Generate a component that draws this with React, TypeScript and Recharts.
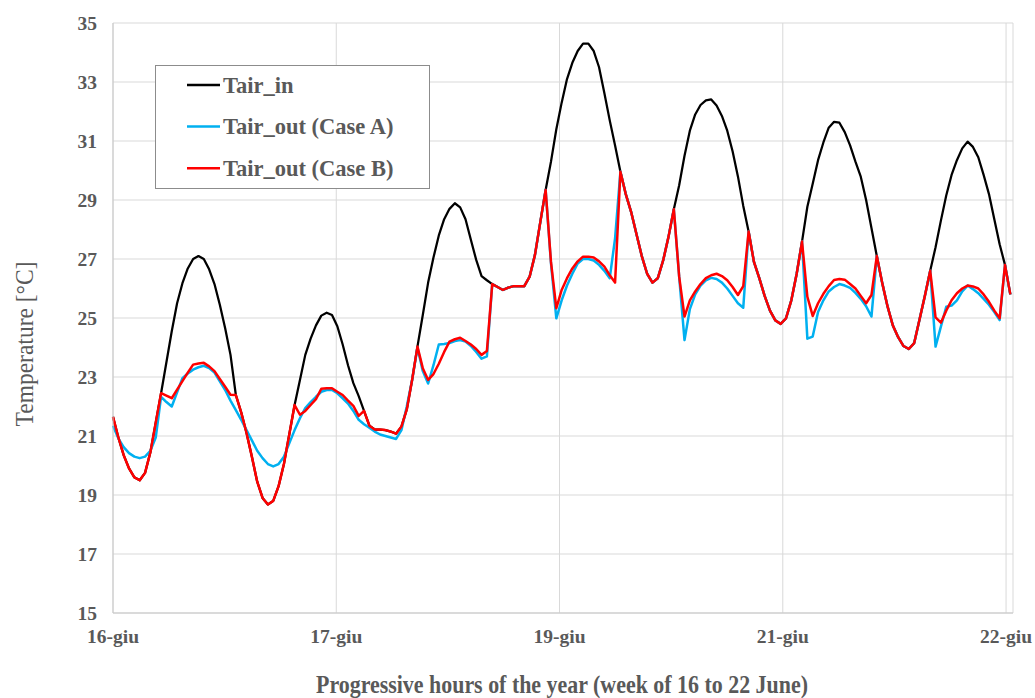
import React from 'react';
import { LineChart, Line, XAxis, YAxis, CartesianGrid, Legend } from 'recharts';

// hourly samples, week of 16-22 June (index = progressive hour of the week)
const tairIn = [
  21.65, 20.95, 20.35, 19.9, 19.6, 19.5, 19.75, 20.45, 21.45, 22.45,
  23.5, 24.55, 25.5, 26.18, 26.68, 27.0, 27.1, 27.0, 26.65, 26.15,
  25.45, 24.65, 23.75, 22.39, 21.8, 21.1, 20.3, 19.45, 18.9, 18.68,
  18.8, 19.3, 20.05, 21.05, 22.05, 22.9, 23.75, 24.3, 24.75, 25.08,
  25.18, 25.1, 24.72, 24.1, 23.4, 22.79, 22.35, 21.85, 21.35, 21.22,
  21.22, 21.2, 21.15, 21.08, 21.32, 21.9, 22.9, 24.03, 25.1, 26.2,
  27.05, 27.8, 28.35, 28.7, 28.89, 28.75, 28.35, 27.65, 26.97, 26.42,
  26.28, 26.15, 26.05, 25.95, 26.03, 26.08, 26.08, 26.08, 26.4, 27.14,
  28.25, 29.34, 30.3, 31.4, 32.3, 33.1, 33.65, 34.05, 34.3, 34.3,
  34.05, 33.5, 32.62, 31.7, 30.85, 29.96, 29.2, 28.6, 27.85, 27.1,
  26.5, 26.2, 26.35, 26.95, 27.75, 28.69, 29.5, 30.5, 31.35, 31.9,
  32.22, 32.38, 32.41, 32.2, 31.85, 31.35, 30.65, 29.8, 28.8, 27.93,
  26.9, 26.35, 25.75, 25.25, 24.92, 24.8, 24.99, 25.6, 26.5, 27.59,
  28.77, 29.55, 30.35, 30.95, 31.45, 31.65, 31.62, 31.3, 30.85, 30.3,
  29.79, 29.0, 28.05, 27.1, 26.2, 25.4, 24.75, 24.35, 24.05, 23.95,
  24.15, 24.95, 25.75, 26.6, 27.4, 28.3, 29.15, 29.85, 30.35, 30.75,
  30.98, 30.8, 30.45, 29.85, 29.2, 28.35, 27.5, 26.8, 25.8,
];

const tairOutA = [
  21.35, 20.92, 20.62, 20.42, 20.3, 20.25, 20.3, 20.5, 20.95, 22.33,
  22.15, 22.0, 22.48, 22.96, 23.12, 23.25, 23.33, 23.38, 23.3, 23.15,
  22.85, 22.56, 22.2, 21.88, 21.55, 21.2, 20.85, 20.5, 20.25, 20.05,
  19.97, 20.05, 20.3, 20.75, 21.2, 21.6, 21.95, 22.15, 22.33, 22.5,
  22.56, 22.56, 22.45, 22.28, 22.1, 21.85, 21.55, 21.4, 21.28, 21.15,
  21.05, 21.0, 20.95, 20.9, 21.2, 22.0, 22.9, 24.0, 23.2, 22.78,
  23.4, 24.1, 24.12, 24.15, 24.22, 24.25, 24.2, 24.05, 23.85, 23.62,
  23.7, 26.15, 26.05, 25.95, 26.03, 26.08, 26.08, 26.08, 26.4, 27.14,
  28.25, 29.34, 26.85, 24.99, 25.6, 26.1, 26.5, 26.85, 27.0, 27.0,
  26.95, 26.8, 26.6, 26.35, 27.7, 29.96, 29.2, 28.6, 27.85, 27.1,
  26.5, 26.2, 26.35, 26.95, 27.75, 28.69, 26.4, 24.25, 25.3, 25.8,
  26.1, 26.28, 26.36, 26.32, 26.2, 26.0, 25.75, 25.5, 25.35, 27.93,
  26.9, 26.35, 25.75, 25.25, 24.92, 24.8, 24.99, 25.6, 26.5, 27.59,
  24.3, 24.37, 25.2, 25.6, 25.9, 26.05, 26.15, 26.1, 26.02, 25.85,
  25.65, 25.4, 25.05, 27.1, 26.2, 25.4, 24.75, 24.35, 24.05, 23.95,
  24.15, 24.95, 25.75, 26.6, 24.03, 24.71, 25.38, 25.42, 25.6, 25.9,
  26.1, 25.98, 25.84, 25.65, 25.45, 25.2, 24.93, 26.8, 25.8,
];

const tairOutB = [
  21.65, 20.95, 20.35, 19.9, 19.6, 19.5, 19.75, 20.45, 21.45, 22.45,
  22.37, 22.28, 22.57, 22.86, 23.15, 23.42, 23.46, 23.48, 23.36, 23.2,
  22.93, 22.67, 22.4, 22.39, 21.8, 21.1, 20.3, 19.45, 18.9, 18.68,
  18.8, 19.3, 20.05, 21.05, 22.05, 21.72, 21.85, 22.05, 22.25, 22.6,
  22.62, 22.62, 22.5, 22.39, 22.2, 22.02, 21.68, 21.85, 21.35, 21.22,
  21.22, 21.2, 21.15, 21.08, 21.32, 21.9, 22.9, 24.03, 23.3, 22.9,
  23.1, 23.45, 23.85, 24.2, 24.28, 24.33, 24.22, 24.1, 23.95, 23.75,
  23.88, 26.15, 26.05, 25.95, 26.03, 26.08, 26.08, 26.08, 26.4, 27.14,
  28.25, 29.34, 26.9, 25.33, 25.95, 26.35, 26.68, 26.92, 27.08, 27.08,
  27.05, 26.92, 26.74, 26.45, 26.2, 29.96, 29.2, 28.6, 27.85, 27.1,
  26.5, 26.2, 26.35, 26.95, 27.75, 28.69, 26.4, 25.05, 25.6, 25.9,
  26.15, 26.35, 26.45, 26.5, 26.42, 26.28, 26.05, 25.78, 26.08, 27.93,
  26.9, 26.35, 25.75, 25.25, 24.92, 24.8, 24.99, 25.6, 26.5, 27.59,
  25.72, 25.07, 25.5, 25.82, 26.08, 26.29, 26.32, 26.3, 26.15, 26.0,
  25.75, 25.5, 25.78, 27.1, 26.2, 25.4, 24.75, 24.35, 24.05, 23.95,
  24.15, 24.95, 25.75, 26.6, 25.02, 24.84, 25.25, 25.6, 25.84, 26.0,
  26.1, 26.07, 26.0, 25.8, 25.55, 25.25, 24.99, 26.8, 25.8,
];

const xTickHours = [0, 41.8, 83.6, 125.4, 167.2];
const xTickLabels = ['16-giu', '17-giu', '19-giu', '21-giu', '22-giu'];
const yTicks = [15, 17, 19, 21, 23, 25, 27, 29, 31, 33, 35];

const series = [
  { key: 'tairIn', name: 'Tair_in', color: '#000000', width: 2.25 },
  { key: 'tairOutA', name: 'Tair_out (Case A)', color: '#00B0F0', width: 2.5 },
  { key: 'tairOutB', name: 'Tair_out (Case B)', color: '#FF0000', width: 2.5 },
];

const data = tairIn.map((v, i) => ({
  hour: i,
  tairIn: v,
  tairOutA: tairOutA[i],
  tairOutB: tairOutB[i],
}));

const FONT = '"Liberation Serif", "Times New Roman", serif';
const TEXT = '#595959';

const XTick = ({ x, y, payload, index }: any) => (
  <text x={x} y={y} dy="0.66em" textAnchor="middle" fontFamily={FONT} fontWeight="bold" fontSize={19.5} fill={TEXT}>
    {xTickLabels[index] ?? payload.value}
  </text>
);

const YTick = ({ x, y, payload }: any) => (
  <text x={x} y={y} dy="0.34em" textAnchor="end" fontFamily={FONT} fontWeight="bold" fontSize={19.5} fill={TEXT}>
    {payload.value}
  </text>
);

const renderLegend = () => (
  <div style={{ width: 275, height: 124, border: '1px solid #8c8c8c', background: '#fff', boxSizing: 'border-box' }}>
    <svg width={273} height={122}>
      {series.map((s, i) => {
        const cy = 19 + i * 41.6;
        return (
          <g key={s.key}>
            <line x1={31} x2={64} y1={cy} y2={cy} stroke={s.color} strokeWidth={2.5} />
            <text x={67} y={cy + 7.5} fontFamily={FONT} fontWeight="bold" fontSize={22.5} fill={TEXT}>
              {s.name}
            </text>
          </g>
        );
      })}
    </svg>
  </div>
);

export default function App() {
  return (
    <div style={{ width: 1035, height: 698, background: '#fff', position: 'relative' }}>
      <style>{'body{margin:0}'}</style>
      <LineChart width={1035} height={698} data={data} margin={{ top: 23, right: 22, bottom: 55, left: 0 }}>
        <CartesianGrid stroke="#d9d9d9" strokeWidth={1} />
        <XAxis
          type="number"
          dataKey="hour"
          domain={[0, 168.5]}
          ticks={xTickHours}
          interval={0}
          height={30}
          tickLine={false}
          tickSize={6}
          tickMargin={11}
          stroke="#c8c8c8"
          tick={<XTick />}
          label={{
            content: () => (
              <text x={562} y={693} textAnchor="middle" fontFamily={FONT} fontWeight="bold" fontSize={25} fill={TEXT} textLength={492} lengthAdjust="spacingAndGlyphs">
                Progressive hours of the year (week of 16 to 22 June)
              </text>
            ),
          }}
        />
        <YAxis
          type="number"
          domain={[15, 35]}
          ticks={yTicks}
          interval={0}
          width={113}
          tickLine={false}
          tickSize={6}
          tickMargin={10}
          stroke="#c8c8c8"
          tick={<YTick />}
          label={{
            content: () => (
              <text x={33} y={344} transform="rotate(-90 33 344)" textAnchor="middle" fontFamily={FONT} fontSize={25} fill={TEXT} textLength={165} lengthAdjust="spacingAndGlyphs">
                Temperature [°C]
              </text>
            ),
          }}
        />
        <Legend
          layout="vertical"
          align="center"
          verticalAlign="middle"
          wrapperStyle={{ left: 155, top: 65, width: 275, height: 124 }}
          content={renderLegend}
        />
        {series.map((s) => (
          <Line
            key={s.key}
            type="linear"
            dataKey={s.key}
            name={s.name}
            stroke={s.color}
            strokeWidth={s.width}
            strokeLinejoin="round"
            dot={false}
            activeDot={false}
            isAnimationActive={false}
          />
        ))}
      </LineChart>
    </div>
  );
}
